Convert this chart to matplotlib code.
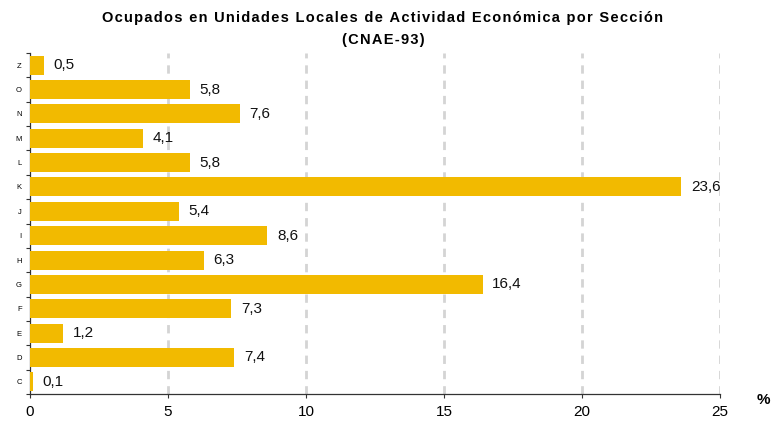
import matplotlib.pyplot as plt
import numpy as np
from matplotlib.ticker import FixedLocator

plt.rcParams["font.family"] = ["Liberation Sans", "DejaVu Sans"]

# data, bottom to top as drawn
sections = ["C", "D", "E", "F", "G", "H", "I", "J", "K", "L", "M", "N", "O", "Z"]
ocupados_pct = [0.1, 7.4, 1.2, 7.3, 16.4, 6.3, 8.6, 5.4, 23.6, 5.8, 4.1, 7.6, 5.8, 0.5]
x_ticks = [0, 5, 10, 15, 20, 25]

title_lines = ["Ocupados en Unidades Locales de Actividad Económica por Sección", "(CNAE-93)"]
bar_color = "#F2BA00"


def tracked(s, gap="\u200a"):
    # the original title is letter-spaced; fake it with hair spaces
    return gap.join(s)


fig = plt.figure(figsize=(7.76, 4.22), dpi=100)
ax = fig.add_axes([30 / 776, 1 - 394 / 422, 690 / 776, 341 / 422])

y = np.arange(len(sections))
ax.barh(y, ocupados_pct, height=0.78, color=bar_color, zorder=3)

for yi, v in zip(y, ocupados_pct):
    ax.annotate(f"{v:.1f}".replace(".", ","), (v, yi), xytext=(7, 0),
                textcoords="offset points", va="center", ha="left",
                fontsize=11, color="#111111", zorder=4)

ax.set_xlim(0, 25)
ax.set_ylim(-0.5, len(sections) - 0.5)

ax.set_xticks(x_ticks)
ax.set_xticklabels([str(t) for t in x_ticks], fontsize=11)
ax.tick_params(axis="x", length=3, width=0.8, pad=5, color="#333333")

# category labels centred, tick marks on slot boundaries
ax.set_yticks(y)
ax.set_yticklabels(sections, fontsize=5.5)
ax.tick_params(axis="y", which="major", length=0, pad=6)
ax.yaxis.set_minor_locator(FixedLocator(np.arange(-0.5, len(sections), 1.0)))
ax.tick_params(axis="y", which="minor", length=3, width=0.8, color="#333333")

for gx in x_ticks[1:]:
    ax.axvline(gx, color="#D4D4D4", linewidth=2, linestyle=(0, (3, 2.5)), zorder=1)

for side in ("top", "right"):
    ax.spines[side].set_visible(False)
for side in ("left", "bottom"):
    ax.spines[side].set_color("#333333")
    ax.spines[side].set_linewidth(0.9)

fig.text(383 / 776, 1 - 18 / 422, tracked(title_lines[0]), ha="center", va="center",
         fontsize=10.5, fontweight="bold")
fig.text(383 / 776, 1 - 40 / 422, tracked(title_lines[1]), ha="center", va="center",
         fontsize=10.5, fontweight="bold")
fig.text(763 / 776, 1 - 400 / 422, "%", ha="center", va="center",
         fontsize=11, fontweight="bold")

fig.savefig("out.png", dpi=100)
